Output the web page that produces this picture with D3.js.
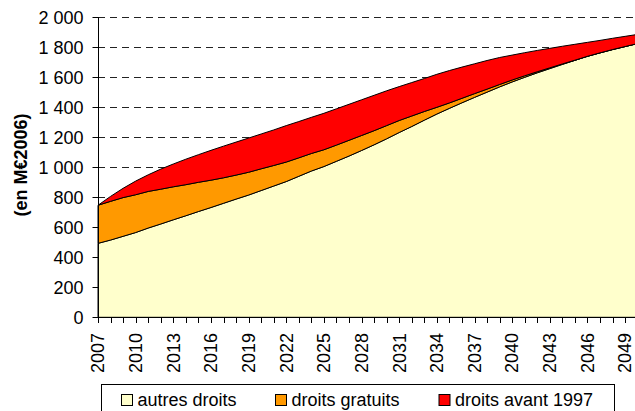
<!DOCTYPE html>
<html>
<head>
<meta charset="utf-8">
<script src="https://cdn.jsdelivr.net/npm/d3@7"></script>
<style>
  html, body { margin: 0; padding: 0; background: #fff; }
  svg { display: block; font-family: "Liberation Sans", Arial, sans-serif; }
</style>
</head>
<body>
<svg id="chart" width="635" height="411"></svg>
<script>
// ---- data (M€2006) ----
const years = d3.range(2007, 2051);
const autresDroits = [493, 515, 540, 565, 595, 622, 650, 677, 705, 732, 760, 788, 815, 845, 875, 905, 940, 975, 1005, 1040, 1075, 1112, 1150, 1190, 1232, 1272, 1314, 1355, 1393, 1430, 1466, 1501, 1536, 1569, 1600, 1630, 1658, 1686, 1713, 1740, 1763, 1785, 1805, 1825];
const droitsGratuits = [254, 258, 258, 252, 244, 232, 220, 207, 195, 182, 170, 160, 152, 145, 137, 130, 123, 117, 112, 108, 105, 100, 94, 88, 80, 70, 58, 45, 36, 30, 25, 20, 16, 13, 10, 7, 5, 3, 1, 0, 0, 0, 0, 0];
const droitsAvant1997 = [0, 33, 62, 91, 111, 134, 152, 170, 184, 199, 211, 220, 228, 232, 237, 243, 242, 241, 243, 242, 240, 238, 236, 232, 226, 223, 220, 220, 216, 208, 199, 191, 180, 166, 154, 142, 130, 118, 106, 93, 83, 75, 68, 61];
const seriesNames = ["autres droits", "droits gratuits", "droits avant 1997"];
const seriesColors = ["#FFFFCC", "#FF9900", "#FF0000"];
const yTicks = [0, 200, 400, 600, 800, 1000, 1200, 1400, 1600, 1800, 2000];
const xLabelYears = d3.range(2007, 2051, 3);
const yTitle = "(en M€2006)";

const table = years.map((y, i) => ({
  year: y,
  [seriesNames[0]]: autresDroits[i],
  [seriesNames[1]]: droitsGratuits[i],
  [seriesNames[2]]: droitsAvant1997[i]
}));

const svg = d3.select("#chart");
const x0 = 98, y0 = 317.3, yTop = 17.3;
const step = 12.55;
const x = d3.scaleLinear().domain([2007, 2050]).range([x0, x0 + 43 * step]);
const y = d3.scaleLinear().domain([0, 2000]).range([y0, yTop]);
const fmt = v => d3.format(",")(v).replace(/,/g, " ");

// gridlines
svg.append("g").selectAll("line").data(yTicks.filter(d => d > 0)).join("line")
  .attr("x1", x0).attr("x2", 640)
  .attr("y1", d => Math.round(y(d)) + 0.5).attr("y2", d => Math.round(y(d)) + 0.5)
  .attr("stroke", "#222").attr("stroke-width", 1).attr("stroke-dasharray", "7,5");

// stacked areas
const stack = d3.stack().keys(seriesNames);
const layers = stack(table);
const area = d3.area()
  .x(d => x(d.data.year))
  .y0(d => y(d[0]))
  .y1(d => y(d[1]));
svg.append("g").selectAll("path").data(layers).join("path")
  .attr("d", area)
  .attr("fill", (d, i) => seriesColors[i])
  .attr("stroke", "#000").attr("stroke-width", 1).attr("stroke-linejoin", "round");

// y axis
const gy = svg.append("g").attr("transform", `translate(${x0 + 0.5},0)`);
gy.append("line").attr("y1", yTop).attr("y2", y0 + 0.5).attr("stroke", "#000");
gy.selectAll("line.t").data(yTicks).join("line").attr("class", "t")
  .attr("x1", -6).attr("x2", 0)
  .attr("y1", d => Math.round(y(d)) + 0.5).attr("y2", d => Math.round(y(d)) + 0.5)
  .attr("stroke", "#000");
gy.selectAll("text").data(yTicks).join("text")
  .attr("x", -15).attr("y", d => y(d)).attr("dy", "0.35em")
  .attr("text-anchor", "end").attr("font-size", 18).attr("fill", "#000")
  .text(fmt);

// x axis
const gx = svg.append("g");
gx.append("line").attr("x1", x0).attr("x2", 640)
  .attr("y1", Math.round(y0) + 0.5).attr("y2", Math.round(y0) + 0.5).attr("stroke", "#000");
gx.selectAll("line.t").data(years).join("line").attr("class", "t")
  .attr("x1", d => Math.round(x(d)) + 0.5).attr("x2", d => Math.round(x(d)) + 0.5)
  .attr("y1", Math.round(y0)).attr("y2", Math.round(y0) + 6)
  .attr("stroke", "#000");
gx.selectAll("text").data(xLabelYears).join("text")
  .attr("transform", d => `translate(${x(d)},333) rotate(-90)`)
  .attr("dy", "0.35em").attr("text-anchor", "end")
  .attr("font-size", 18).attr("fill", "#000")
  .text(d => d);

// y title
svg.append("text")
  .attr("transform", `translate(21,165) rotate(-90)`)
  .attr("dy", "0.35em").attr("text-anchor", "middle")
  .attr("font-size", 18).attr("font-weight", "bold").attr("fill", "#000")
  .text(yTitle);

// legend
const lg = svg.append("g");
lg.append("rect").attr("x", 101.5).attr("y", 384.5).attr("width", 513).attr("height", 60)
  .attr("fill", "#fff").attr("stroke", "#000");
const legendX = [121, 275, 438.5];
const items = lg.selectAll("g.it").data(seriesNames).join("g").attr("class", "it")
  .attr("transform", (d, i) => `translate(${legendX[i]},394)`);
items.append("rect").attr("x", 0.5).attr("y", 0.5).attr("width", 11).attr("height", 11)
  .attr("fill", (d, i) => seriesColors[i]).attr("stroke", "#000");
items.append("text").attr("x", 16.5).attr("y", 12)
  .attr("font-size", 18).attr("fill", "#000").text(d => d);
</script>
</body>
</html>
